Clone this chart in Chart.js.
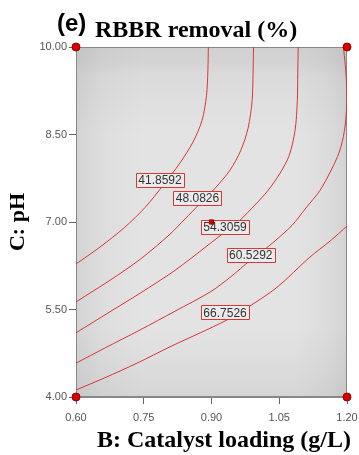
<!DOCTYPE html>
<html>
<head>
<meta charset="utf-8">
<script src="https://cdn.jsdelivr.net/npm/chart.js@4.4.1/dist/chart.umd.min.js"></script>
<style>
  body { margin: 0; background: #fff; }
  #wrap { width: 359px; height: 455px; position: relative; }
</style>
</head>
<body>
<div id="wrap"><canvas id="chart"></canvas></div>
<script>
// Contour levels and their traced paths (B: catalyst loading, C: pH)
const levels = ['41.8592', '48.0826', '54.3059', '60.5292', '66.7526'];

const c1x = [0.600, 0.653, 0.708, 0.753, 0.793, 0.830, 0.859, 0.879, 0.889, 0.892, 0.893];
const c1y = [6.28, 6.57, 6.91, 7.25, 7.63, 8.01, 8.37, 8.74, 9.17, 9.60, 10.00];

const c2x = [0.600, 0.675, 0.742, 0.808, 0.841, 0.875, 0.908, 0.941, 0.965, 0.981, 0.990, 0.992, 0.993];
const c2y = [5.63, 6.00, 6.36, 6.79, 7.05, 7.32, 7.58, 7.89, 8.23, 8.61, 9.08, 9.55, 10.00];

const c3x = [0.600, 0.675, 0.742, 0.819, 0.890, 0.930, 0.963, 0.996, 1.025, 1.052, 1.072, 1.085, 1.090, 1.091, 1.092];
const c3y = [5.10, 5.46, 5.78, 6.17, 6.59, 6.83, 7.03, 7.29, 7.54, 7.84, 8.14, 8.57, 9.08, 9.55, 10.00];

const c4x = [0.600, 0.664, 0.742, 0.819, 0.897, 0.941, 0.987, 1.029, 1.078, 1.109, 1.140, 1.165, 1.183, 1.194, 1.199, 1.199, 1.196, 1.192];
const c4y = [4.58, 4.84, 5.15, 5.47, 5.80, 6.05, 6.35, 6.60, 6.94, 7.24, 7.54, 7.89, 8.20, 8.55, 8.95, 9.35, 9.70, 10.00];

const c5x = [0.600, 0.664, 0.735, 0.808, 0.875, 0.934, 0.981, 1.045, 1.118, 1.162, 1.200];
const c5y = [4.12, 4.33, 4.58, 4.86, 5.10, 5.32, 5.54, 5.88, 6.40, 6.67, 6.93];

// where each level's value box sits
const labelX = [0.786, 0.869, 0.930, 0.987, 0.930];
const labelY = [7.72, 7.41, 6.92, 6.44, 5.45];

// design points
const cornerX = [0.6, 0.6, 1.2, 1.2];
const cornerY = [4, 10, 4, 10];
const centerX = [0.9];
const centerY = [7];

const xTicks = [0.6, 0.75, 0.9, 1.05, 1.2];
const yTicks = [4, 5.5, 7, 8.5, 10];

const pts = (xs, ys) => xs.map((x, i) => ({ x: x, y: ys[i] }));
const paths = [[c1x, c1y], [c2x, c2y], [c3x, c3y], [c4x, c4y], [c5x, c5y]];

const sans = '"Liberation Sans", Arial, sans-serif';
const serif = '"Liberation Serif", "Times New Roman", serif';
const red = '#dd3535';

const lineSets = paths.map((p, i) => ({
    label: levels[i],
    data: pts(p[0], p[1]),
    showLine: true,
    borderColor: red,
    borderWidth: 1,
    pointRadius: 0,
    tension: 0.3,
    order: 0
}));

// shaded response surface behind the contours
const surface = {
    id: 'surface',
    beforeDraw(chart) {
        const { ctx, chartArea: a } = chart;
        const w = a.right - a.left, h = a.bottom - a.top;
        ctx.save();
        ctx.fillStyle = '#e3e3e3';
        ctx.fillRect(a.left, a.top, w, h);
        let g = ctx.createLinearGradient(a.left, 0, a.right, 0);
        g.addColorStop(0, 'rgba(0,0,0,0.07)');
        g.addColorStop(0.04, 'rgba(0,0,0,0.05)');
        g.addColorStop(0.1, 'rgba(0,0,0,0.025)');
        g.addColorStop(0.25, 'rgba(0,0,0,0)');
        g.addColorStop(0.8, 'rgba(0,0,0,0)');
        g.addColorStop(0.93, 'rgba(0,0,0,0.03)');
        g.addColorStop(1, 'rgba(0,0,0,0.07)');
        ctx.fillStyle = g;
        ctx.fillRect(a.left, a.top, w, h);
        g = ctx.createLinearGradient(0, a.top, 0, a.bottom);
        g.addColorStop(0, 'rgba(0,0,0,0.08)');
        g.addColorStop(0.045, 'rgba(0,0,0,0.065)');
        g.addColorStop(0.08, 'rgba(0,0,0,0.035)');
        g.addColorStop(0.25, 'rgba(0,0,0,0)');
        g.addColorStop(0.8, 'rgba(0,0,0,0)');
        g.addColorStop(0.92, 'rgba(0,0,0,0.03)');
        g.addColorStop(1, 'rgba(0,0,0,0.06)');
        ctx.fillStyle = g;
        ctx.fillRect(a.left, a.top, w, h);
        ctx.restore();
    },
    beforeDatasetsDraw(chart) {
        const { ctx, chartArea: a } = chart;
        ctx.save();
        ctx.strokeStyle = '#888';
        ctx.lineWidth = 1;
        ctx.strokeRect(a.left + 0.5, a.top + 0.5, a.right - a.left - 1, a.bottom - a.top - 1);
        ctx.restore();
    }
};

// boxed level values, drawn over the lines but under the design points
const contourLabels = {
    id: 'contourLabels',
    afterDatasetDraw(chart, args) {
        if (args.index !== 0) return;
        const { ctx, scales } = chart;
        ctx.save();
        ctx.font = '12px ' + sans;
        ctx.textAlign = 'center';
        ctx.textBaseline = 'middle';
        levels.forEach((t, i) => {
            const px = scales.x.getPixelForValue(labelX[i]);
            const py = scales.y.getPixelForValue(labelY[i]);
            const w = Math.round(ctx.measureText(t).width + 5), h = 14;
            const l = Math.round(px - w / 2), tp = Math.round(py - h / 2);
            ctx.fillStyle = '#ebebeb';
            ctx.fillRect(l, tp, w, h);
            ctx.beginPath();
            ctx.rect(l + 0.5, tp + 0.5, w, h);
            ctx.strokeStyle = red;
            ctx.lineWidth = 1;
            ctx.stroke();
            ctx.fillStyle = '#333';
            ctx.fillText(t, px, py + 1);
        });
        ctx.restore();
    }
};

// titles with mixed fonts
const titles = {
    id: 'titles',
    afterDraw(chart) {
        const { ctx, chartArea: a } = chart;
        ctx.save();
        ctx.fillStyle = '#000';
        ctx.textBaseline = 'alphabetic';
        ctx.textAlign = 'left';
        ctx.font = 'bold 24px ' + sans;
        ctx.fillText('(e)', 57, 31);
        ctx.font = 'bold 24px ' + serif;
        ctx.fillText('RBBR removal (%)', 95, 37);
        ctx.textAlign = 'center';
        ctx.fillText('B: Catalyst loading (g/L)', 224, 447);
        ctx.translate(24, (a.top + a.bottom) / 2);
        ctx.rotate(-Math.PI / 2);
        ctx.font = 'bold 22px ' + serif;
        ctx.fillText('C: pH', 0, 0);
        ctx.restore();
    }
};

new Chart(document.getElementById('chart'), {
    type: 'scatter',
    data: {
        datasets: lineSets.concat([
            {
                label: 'corners',
                data: pts(cornerX, cornerY),
                pointRadius: 4,
                backgroundColor: '#d80000',
                borderColor: '#900',
                borderWidth: 1,
                clip: false,
                order: -1
            },
            {
                label: 'center',
                data: pts(centerX, centerY),
                pointStyle: 'rect',
                pointRadius: 3,
                backgroundColor: '#d00000',
                borderColor: '#900',
                borderWidth: 1,
                order: -1
            }
        ])
    },
    options: {
        responsive: true,
        maintainAspectRatio: false,
        animation: false,
        layout: { padding: { top: 47, right: 12, left: 0, bottom: 0 } },
        plugins: { legend: { display: false }, tooltip: { enabled: false } },
        scales: {
            x: {
                type: 'linear',
                min: 0.6,
                max: 1.2,
                afterFit: s => { s.height = 58; s.paddingLeft = 0; s.paddingRight = 0; },
                afterBuildTicks: s => { s.ticks = xTicks.map(v => ({ value: v })); },
                ticks: {
                    color: '#555',
                    font: { size: 11, family: sans },
                    padding: 7,
                    maxRotation: 0,
                    callback: v => Number(v).toFixed(2)
                },
                grid: { drawOnChartArea: false, tickLength: 7, color: '#666' },
                border: { color: '#888' }
            },
            y: {
                type: 'linear',
                min: 4,
                max: 10,
                afterFit: s => { s.width = 76; },
                afterBuildTicks: s => { s.ticks = yTicks.map(v => ({ value: v })); },
                ticks: {
                    color: '#555',
                    font: { size: 11, family: sans },
                    padding: 2,
                    callback: v => Number(v).toFixed(2)
                },
                grid: { drawOnChartArea: false, tickLength: 7, color: '#666' },
                border: { color: '#888' }
            }
        }
    },
    plugins: [surface, contourLabels, titles]
});
</script>
</body>
</html>
